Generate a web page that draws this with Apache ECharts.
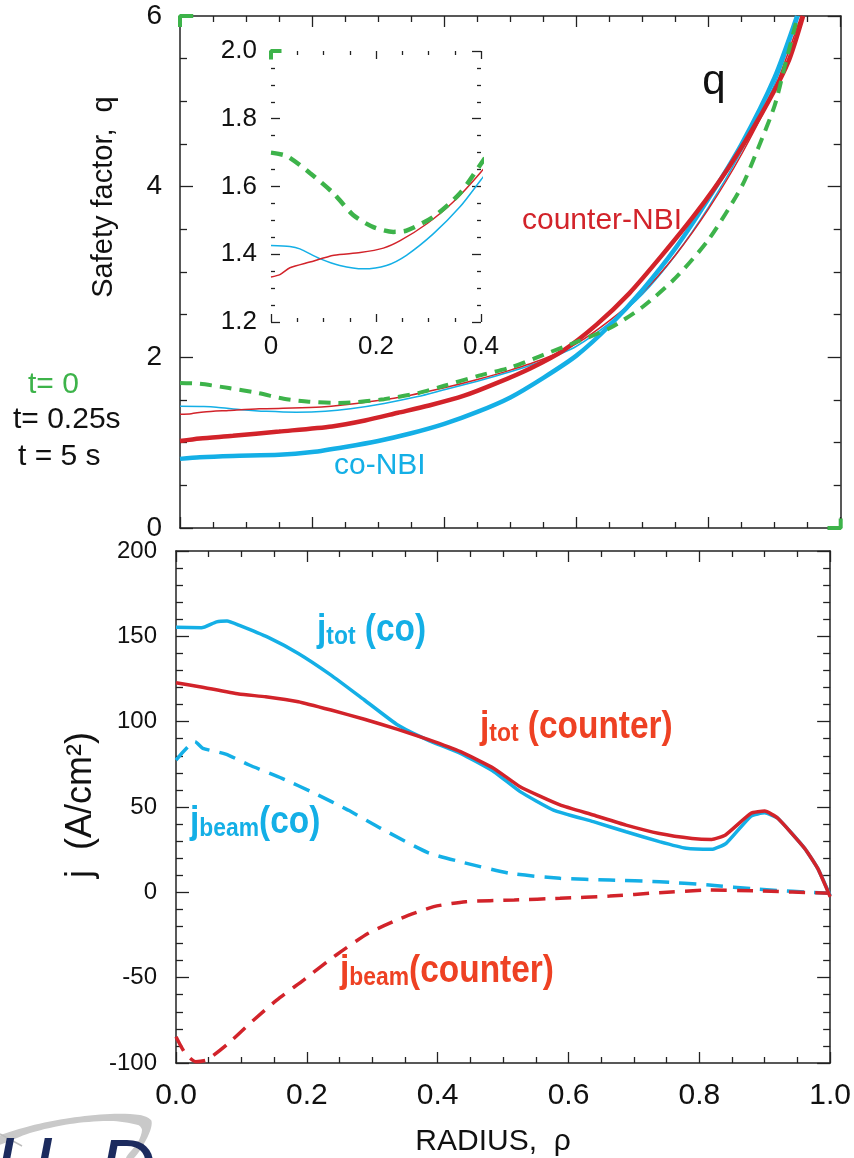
<!DOCTYPE html>
<html>
<head>
<meta charset="utf-8">
<script src="https://cdn.jsdelivr.net/npm/echarts@6/dist/echarts.min.js"></script>
<style>
html,body{margin:0;padding:0;background:#fff;}
#chart{width:854px;height:1158px;}
</style>
</head>
<body>
<div id="chart"></div>
<script>
// ---------------- DATA ----------------
// Top panel: safety factor q vs rho
const rhoGreen = [0, 0.03, 0.074, 0.119, 0.157, 0.195, 0.233, 0.258, 0.309, 0.36, 0.4, 0.45, 0.5, 0.55, 0.6, 0.65, 0.7, 0.75, 0.8, 0.85, 0.875, 0.9, 0.915, 0.935];
const qGreen   = [1.70, 1.69, 1.64, 1.58, 1.515, 1.48, 1.466, 1.47, 1.51, 1.58, 1.667, 1.78, 1.88, 2.03, 2.18, 2.34, 2.59, 2.93, 3.38, 4.0, 4.45, 4.95, 5.4, 6.0];

const rhoThinRed = [0, 0.017, 0.036, 0.074, 0.12, 0.17, 0.214, 0.246, 0.297, 0.347, 0.4, 0.45, 0.5, 0.55, 0.6, 0.65, 0.7, 0.75, 0.8, 0.85, 0.9, 0.94];
const qThinRed   = [1.333, 1.34, 1.36, 1.377, 1.397, 1.405, 1.418, 1.44, 1.49, 1.554, 1.643, 1.74, 1.85, 1.98, 2.16, 2.43, 2.76, 3.2, 3.74, 4.38, 5.15, 6.0];

const rhoThinCyan = [0, 0.036, 0.055, 0.093, 0.131, 0.176, 0.22, 0.258, 0.309, 0.36, 0.4, 0.45, 0.5, 0.55, 0.6, 0.65, 0.7, 0.75, 0.8, 0.85, 0.9, 0.937];
const qThinCyan   = [1.426, 1.423, 1.416, 1.387, 1.367, 1.357, 1.367, 1.397, 1.46, 1.54, 1.62, 1.72, 1.83, 1.96, 2.13, 2.40, 2.74, 3.2, 3.76, 4.42, 5.2, 6.0];

const rhoThickCyan = [0, 0.03, 0.08, 0.15, 0.2, 0.25, 0.3, 0.35, 0.4, 0.45, 0.5, 0.55, 0.6, 0.65, 0.7, 0.75, 0.8, 0.85, 0.9, 0.934];
const qThickCyan   = [0.81, 0.83, 0.845, 0.857, 0.89, 0.95, 1.02, 1.11, 1.22, 1.36, 1.53, 1.76, 2.02, 2.37, 2.79, 3.28, 3.86, 4.5, 5.28, 6.0];

const rhoThickRed = [0, 0.03, 0.08, 0.15, 0.23, 0.28, 0.33, 0.377, 0.43, 0.48, 0.53, 0.58, 0.63, 0.68, 0.73, 0.78, 0.83, 0.88, 0.92, 0.943];
const qThickRed   = [1.02, 1.05, 1.08, 1.13, 1.19, 1.26, 1.35, 1.435, 1.55, 1.7, 1.87, 2.08, 2.38, 2.75, 3.2, 3.68, 4.22, 4.85, 5.45, 6.0];

// Bottom panel: current density j vs rho
const rhoJtotCo = [0, 0.039, 0.062, 0.078, 0.096, 0.141, 0.187, 0.237, 0.288, 0.339, 0.385, 0.435, 0.486, 0.526, 0.577, 0.638, 0.688, 0.739, 0.78, 0.819, 0.841, 0.879, 0.9, 0.92, 0.961, 0.981, 1.0];
const jJtotCo   = [155.3, 155, 158.5, 159, 156.6, 149.4, 140, 127.3, 112.7, 98, 89.2, 81.4, 70.7, 59, 48.2, 41.4, 35.5, 29.7, 25.8, 25.2, 28.7, 44.7, 46.6, 43.4, 25.8, 14, -2];

const rhoJtotCounter = [0, 0.036, 0.096, 0.137, 0.187, 0.237, 0.288, 0.339, 0.385, 0.435, 0.486, 0.526, 0.587, 0.638, 0.688, 0.739, 0.789, 0.819, 0.84, 0.879, 0.9, 0.92, 0.961, 0.981, 1.0];
const jJtotCounter   = [122.8, 120.5, 116.2, 114.6, 111.7, 106.8, 101.4, 95.5, 89.6, 82.4, 72.6, 61.9, 51.2, 45.3, 39.4, 34.5, 31.6, 31, 33.6, 46.3, 47.6, 43.4, 25.8, 14, -2.6];

const rhoJbeamCo = [0, 0.029, 0.041, 0.076, 0.112, 0.162, 0.212, 0.263, 0.313, 0.385, 0.435, 0.511, 0.587, 0.663, 0.739, 0.815, 0.89, 1.0];
const jJbeamCo   = [77.5, 88.3, 84.4, 81, 74.6, 66.8, 58, 48.2, 37.5, 23.3, 17.9, 11.1, 8.2, 7.2, 6.2, 4.3, 1.8, -0.6];

const rhoJbeamCounter = [0, 0.014, 0.03, 0.047, 0.08, 0.113, 0.154, 0.195, 0.245, 0.294, 0.344, 0.394, 0.443, 0.517, 0.587, 0.663, 0.739, 0.815, 0.89, 1.0];
const jJbeamCounter   = [-84.6, -94.3, -99.2, -98.2, -88.5, -76.8, -63.1, -51.4, -36.7, -24, -15.2, -8.4, -5.5, -4.5, -3.5, -2.2, -0.2, 1.3, 0.8, -0.6];

// Corner marks (green) as seen in the figure
const cornerTopLeft = [[0, 5.87], [0, 6], [0.02, 6]];
const cornerBottomRight = [[0.98, 0], [1, 0], [1, 0.11]];
const cornerInset = [[0, 1.975], [0, 2.0], [0.02, 2.0]];

// Tick labels / texts
const topYTicks = [0, 2, 4, 6];
const bottomXLabels = ['0.0', '0.2', '0.4', '0.6', '0.8', '1.0'];

// ---------------- STYLE ----------------
const F = '"Liberation Sans", Arial, Helvetica, sans-serif';
const CYAN = '#14AFE6';
const RED = '#D2232A';
const ORANGE = '#EE4123';
const GREEN = '#3DB34A';
const AX = '#222';

function pairs(xs, ys) { return xs.map((x, i) => [x, ys[i]]); }

function line(xi, yi, data, color, width, dash, opts) {
  return Object.assign({
    type: 'line', xAxisIndex: xi, yAxisIndex: yi, data: data,
    showSymbol: false, symbol: 'none', smooth: 0.25, animation: false,
    lineStyle: { color: color, width: width, type: dash ? dash : 'solid', cap: 'butt' },
    silent: true
  }, opts || {});
}

function xAx(grid, pos, min, max, interval, showLine, labelOpt, tickLen, minorLen) {
  return {
    type: 'value', gridIndex: grid, position: pos, min: min, max: max, interval: interval,
    axisLine: { show: showLine, onZero: false, lineStyle: { color: AX, width: 1.5 } },
    axisTick: { show: true, inside: true, length: tickLen, lineStyle: { color: AX, width: 1.3 } },
    minorTick: { show: true, splitNumber: 4, length: minorLen, lineStyle: { color: AX, width: 1.3 } },
    axisLabel: labelOpt || { show: false },
    splitLine: { show: false }, minorSplitLine: { show: false }
  };
}
function yAx(grid, pos, min, max, interval, split, showLine, labelOpt, tickLen, minorLen) {
  return {
    type: 'value', gridIndex: grid, position: pos, min: min, max: max, interval: interval,
    axisLine: { show: showLine, onZero: false, lineStyle: { color: AX, width: 1.5 } },
    axisTick: { show: true, inside: true, length: tickLen, lineStyle: { color: AX, width: 1.3 } },
    minorTick: { show: true, splitNumber: split, length: minorLen, lineStyle: { color: AX, width: 1.3 } },
    axisLabel: labelOpt || { show: false },
    splitLine: { show: false }, minorSplitLine: { show: false }
  };
}

const richLabel = {
  m: { fontSize: 38, fontWeight: 'bold', fontFamily: F, verticalAlign: 'bottom' },
  s: { fontSize: 26, fontWeight: 'bold', fontFamily: F, verticalAlign: 'bottom' }
};

const chart = echarts.init(document.getElementById('chart'), null, { renderer: 'canvas' });

const option = {
  backgroundColor: '#ffffff',
  animation: false,
  grid: [
    { left: 180, top: 16, width: 660.7, height: 512 },
    { left: 271, top: 51, width: 210, height: 271 },
    { left: 176, top: 551, width: 660, height: 512 }
  ],
  xAxis: [
    xAx(0, 'bottom', 0, 1, 0.2, true, null, 11, 6),
    xAx(0, 'top', 0, 1, 0.2, true, null, 11, 6),
    xAx(1, 'bottom', 0, 0.4, 0.2, false, { show: true, margin: 12, fontSize: 26, color: '#111', fontFamily: F }, 8, 4),
    xAx(1, 'top', 0, 0.4, 0.2, false, null, 8, 4),
    xAx(2, 'bottom', 0, 1, 0.2, true, { show: true, margin: 18, fontSize: 30, color: '#111', fontFamily: F,
      formatter: (v) => bottomXLabels[Math.round(v / 0.2)] }, 11, 6),
    xAx(2, 'top', 0, 1, 0.2, true, null, 11, 6)
  ],
  yAxis: [
    yAx(0, 'left', 0, 6, 2, 4, true, { show: true, margin: 18, fontSize: 28, color: '#111', fontFamily: F,
      formatter: (v) => String(topYTicks[Math.round(v / 2)]) }, 13, 7),
    yAx(0, 'right', 0, 6, 2, 4, true, null, 13, 7),
    yAx(1, 'left', 1.2, 2.0, 0.2, 4, false, { show: true, margin: 14, fontSize: 26, color: '#111', fontFamily: F,
      formatter: (v) => v.toFixed(1) }, 9, 4),
    yAx(1, 'right', 1.2, 2.0, 0.2, 4, false, null, 9, 4),
    yAx(2, 'left', -100, 200, 50, 5, true, { show: true, margin: 19, fontSize: 24, color: '#111', fontFamily: F }, 13, 7),
    yAx(2, 'right', -100, 200, 50, 5, true, null, 13, 7)
  ],
  series: [
    // top panel
    line(0, 0, pairs(rhoThinCyan, qThinCyan), CYAN, 1.5),
    line(0, 0, pairs(rhoThinRed, qThinRed), RED, 1.5),
    line(0, 0, pairs(rhoThickCyan, qThickCyan), CYAN, 4.5),
    line(0, 0, pairs(rhoThickRed, qThickRed), RED, 4.5),
    line(0, 0, pairs(rhoGreen, qGreen), GREEN, 4, [12, 8]),
    line(0, 0, cornerTopLeft, GREEN, 4, null, { smooth: false, clip: false }),
    line(0, 0, cornerBottomRight, GREEN, 4, null, { smooth: false, clip: false }),
    // inset
    line(2, 2, pairs(rhoThinCyan, qThinCyan), CYAN, 1.5),
    line(2, 2, pairs(rhoThinRed, qThinRed), RED, 1.5),
    line(2, 2, pairs(rhoGreen, qGreen), GREEN, 4.5, [12, 8]),
    line(2, 2, cornerInset, GREEN, 4, null, { smooth: false, clip: false }),
    // bottom panel
    line(4, 4, pairs(rhoJbeamCo, jJbeamCo), CYAN, 3.5, [17, 10], { smooth: 0.2 }),
    line(4, 4, pairs(rhoJbeamCounter, jJbeamCounter), RED, 3.5, [16, 10], { smooth: 0.2 }),
    line(4, 4, pairs(rhoJtotCo, jJtotCo), CYAN, 3.5, null, { smooth: 0.15 }),
    line(4, 4, pairs(rhoJtotCounter, jJtotCounter), RED, 3.5, null, { smooth: 0.15 })
  ],
  graphic: [
    // axis titles
    { type: 'text', x: 104, y: 197, rotation: Math.PI / 2,
      style: { text: 'Safety factor,  q', font: '29px ' + F, fill: '#111', align: 'center', verticalAlign: 'middle' } },
    { type: 'text', x: 81, y: 805, rotation: Math.PI / 2,
      style: { text: 'j  (A/cm\u00B2)', font: '36px ' + F, fill: '#111', align: 'center', verticalAlign: 'middle' } },
    { type: 'text', x: 493, y: 1142,
      style: { text: 'RADIUS,  \u03C1', font: '30px ' + F, fill: '#111', align: 'center', verticalAlign: 'middle' } },
    // time legend
    { type: 'text', x: 28, y: 385, style: { text: 't= 0', font: '30px ' + F, fill: GREEN, align: 'left', verticalAlign: 'middle' } },
    { type: 'text', x: 13, y: 420, style: { text: 't= 0.25s', font: '30px ' + F, fill: '#111', align: 'left', verticalAlign: 'middle' } },
    { type: 'text', x: 18, y: 457, style: { text: 't = 5 s', font: '30px ' + F, fill: '#111', align: 'left', verticalAlign: 'middle' } },
    // top annotations
    { type: 'text', x: 714, y: 82, style: { text: 'q', font: '42px ' + F, fill: '#111', align: 'center', verticalAlign: 'middle' } },
    { type: 'text', x: 522, y: 221, style: { text: 'counter-NBI', font: '30px ' + F, fill: RED, align: 'left', verticalAlign: 'middle' } },
    { type: 'text', x: 334, y: 466, style: { text: 'co-NBI', font: '30px ' + F, fill: CYAN, align: 'left', verticalAlign: 'middle' } },
    // bottom annotations
    { type: 'text', x: 317, y: 631, scaleX: 0.88,
      style: { text: '{m|j}{s|tot}{m| (co)}', fill: CYAN, align: 'left', verticalAlign: 'middle', rich: richLabel } },
    { type: 'text', x: 480, y: 728, scaleX: 0.88,
      style: { text: '{m|j}{s|tot}{m| (counter)}', fill: ORANGE, align: 'left', verticalAlign: 'middle', rich: richLabel } },
    { type: 'text', x: 190, y: 823, scaleX: 0.88,
      style: { text: '{m|j}{s|beam}{m|(co)}', fill: CYAN, align: 'left', verticalAlign: 'middle', rich: richLabel } },
    { type: 'text', x: 340, y: 972, scaleX: 0.88,
      style: { text: '{m|j}{s|beam}{m|(counter)}', fill: ORANGE, align: 'left', verticalAlign: 'middle', rich: richLabel } },
    // partial logo in bottom-left corner
    { type: 'polygon', shape: { smooth: 0.3, points: [[-5, 1138], [30, 1126], [70, 1118], [110, 1114], [140, 1115], [151, 1120], [151, 1128], [146, 1140], [134, 1158],
        [126, 1158], [138, 1142], [142, 1130], [138, 1125], [110, 1121], [70, 1124], [30, 1133], [-5, 1146]] },
      style: { fill: '#C9C9C9' } },
    { type: 'line', shape: { x1: 0, y1: 1134, x2: 22, y2: 1146 }, style: { stroke: '#BDBDBD', lineWidth: 1.5 } },
    { type: 'text', x: -6, y: 1131, style: { text: 'U', font: 'italic 80px ' + F, fill: '#1C2B5E', align: 'left', verticalAlign: 'top' } },
    { type: 'text', x: 98, y: 1133, style: { text: 'D', font: 'italic 80px ' + F, fill: '#1C2B5E', align: 'left', verticalAlign: 'top' } }
  ]
};
chart.setOption(option);
</script>
</body>
</html>
